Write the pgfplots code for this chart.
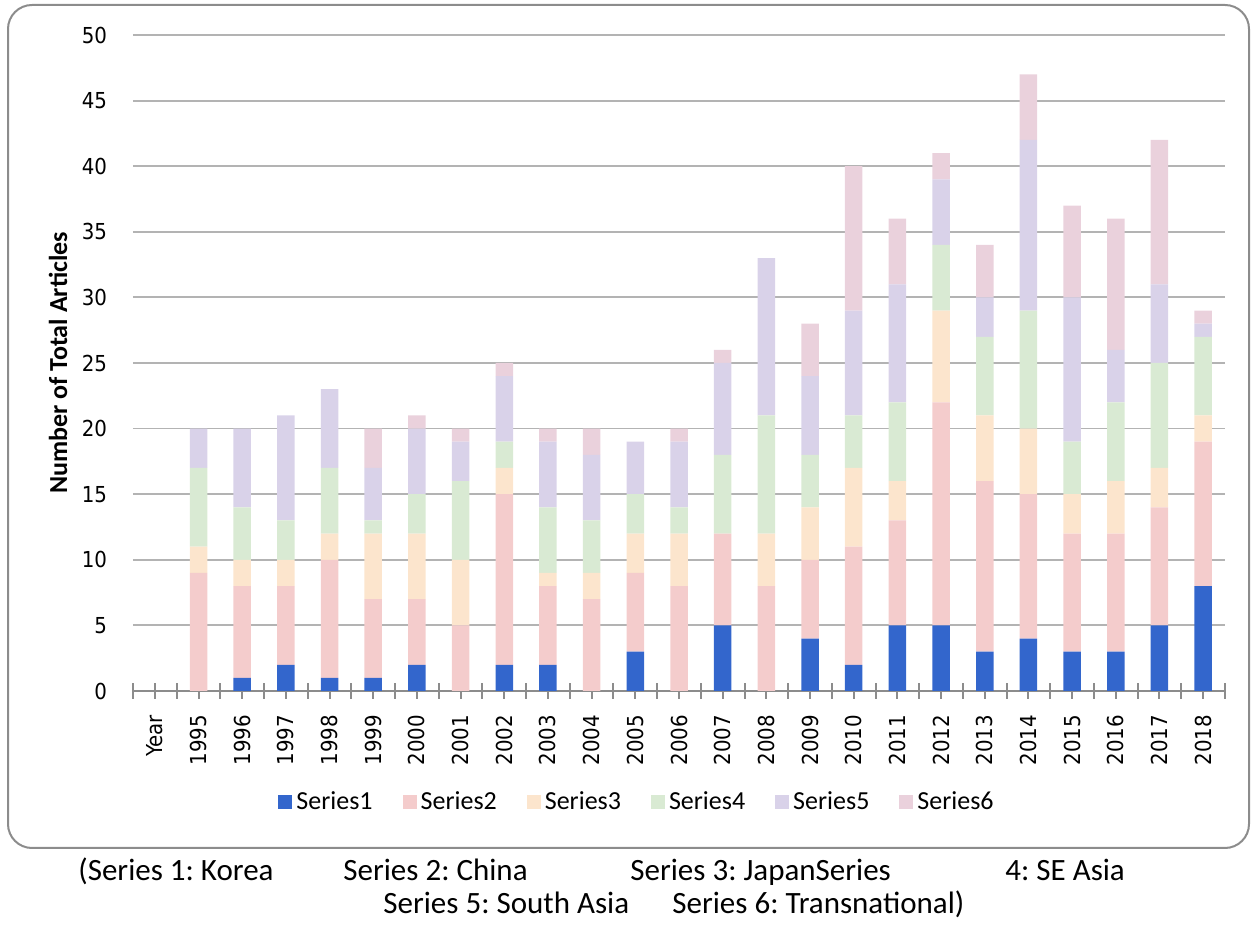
\documentclass[border=0pt]{standalone}
\usepackage{pgfplots}
\pgfplotsset{compat=1.18}
\usepackage{pgfplotstable}
\usepackage{fontspec}
\setmainfont{Carlito}
\newfontfamily\dejavu{DejaVu Sans Condensed}
\definecolor{cA}{HTML}{3366CC}
\definecolor{cB}{HTML}{F4CCCC}
\definecolor{cC}{HTML}{FCE5CD}
\definecolor{cD}{HTML}{D9EAD3}
\definecolor{cE}{HTML}{D9D2E9}
\definecolor{cF}{HTML}{EAD1DC}
\definecolor{axgray}{HTML}{8C8C8C}
\definecolor{gridgray}{HTML}{B3B3B3}
\pgfplotstableread{
x S1 S2 S3 S4 S5 S6
0 0 0 0 0 0 0
1 0 9 2 6 3 0
2 1 7 2 4 6 0
3 2 6 2 3 8 0
4 1 9 2 5 6 0
5 1 6 5 1 4 3
6 2 5 5 3 5 1
7 0 5 5 6 3 1
8 2 13 2 2 5 1
9 2 6 1 5 5 1
10 0 7 2 4 5 2
11 3 6 3 3 4 0
12 0 8 4 2 5 1
13 5 7 0 6 7 1
14 0 8 4 9 12 0
15 4 6 4 4 6 4
16 2 9 6 4 8 11
17 5 8 3 6 9 5
18 5 17 7 5 5 2
19 3 13 5 6 3 4
20 4 11 5 9 13 5
21 3 9 3 4 11 7
22 3 9 4 6 4 10
23 5 9 3 8 6 11
24 8 11 2 6 1 1
}\datatable
\begin{document}
\frenchspacing
\begin{tikzpicture}
\useasboundingbox (0,0) rectangle (626.5pt,463pt);
\draw[axgray, line width=1pt, rounded corners=12pt] (4pt,39pt) rectangle (624.5pt,460.5pt);
\begin{axis}[
  at={(66.5pt,117.5pt)}, anchor=south west,
  scale only axis, width=546pt, height=328pt,
  ybar stacked, bar width=8.75pt,
  xmin=-0.5, xmax=24.5, ymin=0, ymax=50,
  ytick={0,5,...,50},
  xtick={0,...,24},
  xticklabels={Year,1995,1996,1997,1998,1999,2000,2001,2002,2003,2004,2005,2006,2007,2008,2009,2010,2011,2012,2013,2014,2015,2016,2017,2018},
  minor xtick={-0.5,0.5,...,24.5},
  axis x line*=bottom, axis y line*=left,
  x axis line style={-, axgray, line width=1pt},
  y axis line style={draw=none},
  ytick style={draw=none},
  xtick style={axgray, line width=1pt},
  tick align=center,
  major tick length=8pt, minor tick length=8pt,
  ymajorgrids, grid style={gridgray, line width=0.9pt},
  /pgf/number format/assume math mode=true,
  yticklabel style={font=\dejavu\fontsize{11}{13}\selectfont, anchor=east, xshift=-5.5pt},
  xticklabel style={font=\dejavu\fontsize{11}{13}\selectfont, rotate=90, anchor=east, xshift=-4.5pt},
  ylabel={\bfseries Number of Total Articles},
  ylabel style={font=\fontsize{13}{15}\selectfont, at={(axis description cs:-0.0687,0.5)}, anchor=center},
  legend columns=6,
  legend style={draw=none, fill=none, at={(axis description cs:0.4625,-0.169)}, anchor=center,
    font=\fontsize{13}{15}\selectfont, /tikz/every even column/.append style={column sep=13pt}},
  legend image code/.code={\fill[#1] (0pt,-3.5pt) rectangle (7pt,3.5pt);},
]
\addplot[fill=cA, draw=none] table[x=x,y=S1]{\datatable};
\addplot[fill=cB, draw=none] table[x=x,y=S2]{\datatable};
\addplot[fill=cC, draw=none] table[x=x,y=S3]{\datatable};
\addplot[fill=cD, draw=none] table[x=x,y=S4]{\datatable};
\addplot[fill=cE, draw=none] table[x=x,y=S5]{\datatable};
\addplot[fill=cF, draw=none] table[x=x,y=S6]{\datatable};
\legend{Series1,Series2,Series3,Series4,Series5,Series6}
\end{axis}
\begin{scope}[every node/.style={font=\fontsize{15.5}{17}\selectfont, anchor=base west, inner sep=0pt}]
\node at (39pt,22.5pt) {(Series 1: Korea};
\node at (171.5pt,22.5pt) {Series 2: China};
\node at (315pt,22.5pt) {Series 3: JapanSeries};
\node at (502.5pt,22.5pt) {4: SE Asia};
\node at (191.5pt,6pt) {Series 5: South Asia};
\node at (336pt,6pt) {Series 6: Transnational)};
\end{scope}
\end{tikzpicture}
\end{document}
